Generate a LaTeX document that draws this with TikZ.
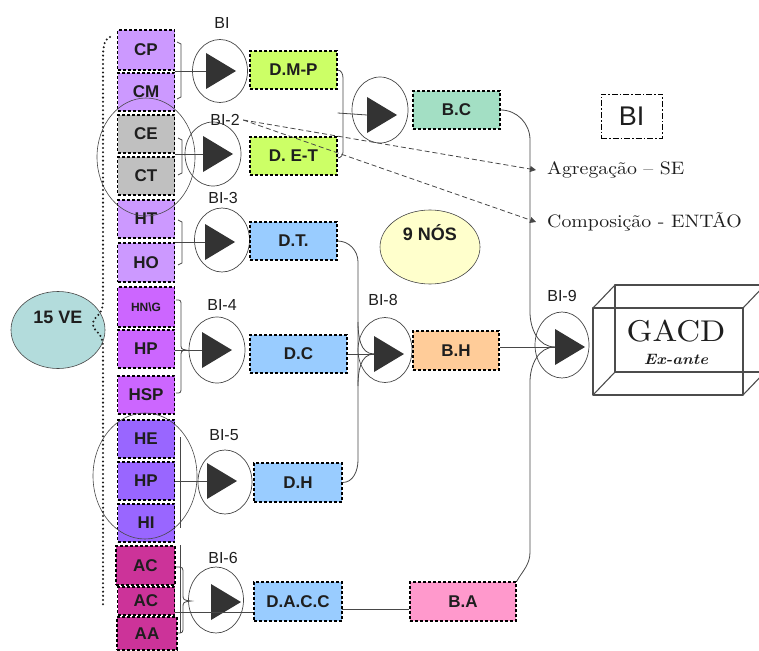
\documentclass[tikz,border=0pt]{standalone}
\usepackage{fontspec}
\setsansfont{Liberation Sans}
\newfontfamily\notefont[Extension=.otf, FakeStretch=1.1]{lmroman10-regular}
\newfontfamily\boxfont[Extension=.otf, FakeStretch=1.1]{lmroman10-regular}
\newfontfamily\exfont[Extension=.otf, FakeStretch=1.1]{lmroman10-bolditalic}
\usepackage{xcolor}
\definecolor{ink}{HTML}{1E1E1E}
\definecolor{wirecol}{HTML}{474747}
\definecolor{triink}{HTML}{333333}
\definecolor{lilac}{HTML}{CC99FF}
\definecolor{stone}{HTML}{C0C0C0}
\definecolor{orchid}{HTML}{CC66FF}
\definecolor{hviolet}{HTML}{9966FF}
\definecolor{magent}{HTML}{CC3399}
\definecolor{dlime}{HTML}{CCFF66}
\definecolor{sky}{HTML}{99CCFF}
\definecolor{mint}{HTML}{A3DFC4}
\definecolor{peach}{HTML}{FFCC99}
\definecolor{rose}{HTML}{FF99CC}
\definecolor{cream}{HTML}{FFFFCC}
\definecolor{veteal}{HTML}{B3DCDC}
\usepackage{tikz}
\usetikzlibrary{calc,arrows.meta,positioning,shapes.geometric}

% filled play-triangle inside a BI circle
\newcommand{\bitri}[2]{%
  \coordinate (#1) at #2;
  \coordinate (#1in) at ($(#1)+(-14,0)$);
  \fill[triink] ($(#1)+(-14,-18)$) -- ($(#1)+(16,0)$) -- ($(#1)+(-14,18)$) -- cycle;}

\begin{document}
\begin{tikzpicture}[x=1pt, y=-1pt, >=Stealth,
    vebox/.style={draw=black, dash pattern=on 3pt off 2pt, line width=1.2pt, minimum width=57pt, minimum height=38pt, inner sep=0pt, text=ink, font=\sffamily\bfseries\fontsize{17}{18}\selectfont},
    dbox/.style={vebox, minimum width=87pt},
    bicirc/.style={ellipse, draw=wirecol, line width=0.7pt, minimum width=55pt, minimum height=65pt, inner sep=0pt},
    bilabel/.style={text=ink, font=\sffamily\fontsize{16}{17}\selectfont},
    wire/.style={draw=wirecol, line width=0.8pt},
    hint/.style={wire, dash pattern=on 5pt off 3pt, -{Triangle[length=6pt,width=6pt]}},
    note/.style={anchor=west, text=ink, inner sep=0pt, font=\notefont\fontsize{18}{20}\selectfont},
    lifted/.style={text height=12pt, text depth=26pt}]

    \useasboundingbox (0,0) rectangle (759,650);
    \clip (0,0) rectangle (759,650);

    % Indicator column
    \node[vebox, fill=lilac, minimum height=40pt] (cp) at (146,50) {CP};
    \node[vebox, fill=lilac] (cm) at (146,92) {CM};
    \node[vebox, fill=stone] (ce) at (146,134) {CE};
    \node[vebox, fill=stone] (ct) at (146,176) {CT};
    \node[vebox, fill=lilac] (ht) at (146,219) {HT};
    \node[vebox, fill=lilac, minimum height=39pt] (ho) at (146,262.5) {HO};
    \node[vebox, fill=orchid, minimum height=40pt, font=\sffamily\bfseries\fontsize{12}{13}\selectfont] (hng) at (146,307) {HN\textbackslash G};
    \node[vebox, fill=orchid] (hp1) at (146,349) {HP};
    \node[vebox, fill=orchid] (hsp) at (146,395) {HSP};
    \node[vebox, fill=hviolet] (he) at (146,439) {HE};
    \node[vebox, fill=hviolet] (hp2) at (146,481) {HP};
    \node[vebox, fill=hviolet] (hi) at (146,523) {HI};
    \node[vebox, fill=magent, minimum width=59pt, minimum height=39pt] (ac1) at (145.5,565.5) {AC};
    \node[vebox, fill=magent, minimum height=28pt] (ac2) at (146,601) {AC};
    \node[vebox, fill=magent, minimum width=60pt, minimum height=33pt] (aa) at (147,633.5) {AA};

    % Grouping ellipses
    \node[ellipse, draw=wirecol, line width=0.6pt, minimum width=98pt, minimum height=118pt] (grpc) at (146,157) {};
    \node[ellipse, draw=wirecol, line width=0.6pt, minimum width=104pt, minimum height=126pt] (grph) at (145,476) {};

    % 15 VE and the dotted brace
    \node[ellipse, draw=wirecol, line width=0.6pt, fill=veteal, minimum width=94pt, minimum height=77pt, lifted,
          text=ink, font=\sffamily\bfseries\fontsize{18}{19}\selectfont] (ve) at (58,330) {15 VE};
    \draw[ink, line width=2.3pt, line cap=round, dash pattern=on 0pt off 4.2pt]
        (110,37) .. controls (103,40) and (103,50) .. (103,60) -- (103,302)
        .. controls (103,316) and (93,316) .. (93,324) .. controls (93,332) and (103,332) .. (103,346)
        -- (103,607);

    % BI circles
    \node[bicirc, minimum height=63pt] (bi1) at (220,71) {};
    \node[bicirc, minimum width=56pt, minimum height=64pt] (bi2) at (213,154) {};
    \node[bicirc, minimum height=64pt] (bi3) at (222,240) {};
    \node[bicirc, minimum width=56pt, minimum height=66pt] (bi4) at (217,350) {};
    \node[bicirc, minimum width=54pt, minimum height=64pt] (bi5) at (225,482) {};
    \node[bicirc, minimum height=66pt] (bi6) at (216,600) {};
    \node[bicirc, minimum width=56pt, minimum height=66pt] (bi7) at (380,110) {};
    \node[bicirc, minimum width=54pt] (bi8) at (385,350) {};
    \node[bicirc, minimum width=54pt, minimum height=66pt] (bi9) at (562,345) {};

    \bitri{t1}{(220,71)}
    \bitri{t2}{(217,154)}
    \bitri{t3}{(219,242)}
    \bitri{t4}{(216,350)}
    \bitri{t5}{(221,481)}
    \bitri{t6}{(225,602)}
    \bitri{t7}{(381,115)}
    \bitri{t8}{(388,354)}
    \bitri{t9}{(569,347)}

    \node[bilabel] (lbi1) at (222,23) {BI};
    \node[bilabel] (lbi2) at (225,120) {BI-2};
    \node[bilabel] (lbi3) at (223,198) {BI-3};
    \node[bilabel] (lbi4) at (222,305) {BI-4};
    \node[bilabel] (lbi5) at (224,435) {BI-5};
    \node[bilabel] (lbi6) at (223,558) {BI-6};
    \node[bilabel] (lbi8) at (383,300) {BI-8};
    \node[bilabel] (lbi9) at (562,296) {BI-9};

    % Dimension and block boxes
    \node[dbox, fill=dlime] (dmp) at (293.5,70) {D.M-P};
    \node[dbox, fill=dlime] (det) at (293.5,156) {D. E-T};
    \node[dbox, fill=sky] (dt) at (293.5,241) {D.T.};
    \node[dbox, fill=sky, minimum width=97pt] (dc) at (298.5,354) {D.C};
    \node[dbox, fill=sky, minimum width=88pt, minimum height=39pt] (dh) at (298,482.5) {D.H};
    \node[dbox, fill=sky, minimum width=88pt, minimum height=39pt] (dacc) at (298,601.5) {D.A.C.C};
    \node[dbox, fill=mint] (bc) at (456.5,110) {B.C};
    \node[dbox, fill=peach, minimum width=86pt, minimum height=39pt] (bh) at (456,350.5) {B.H};
    \node[dbox, fill=rose, minimum width=106pt, minimum height=39pt] (ba) at (463,601.5) {B.A};

    % Legend and node count
    \node[draw=black, line width=0.9pt, dash pattern=on 6pt off 2pt on 1.5pt off 2pt, minimum width=61pt, minimum height=44pt,
          text=ink, font=\sffamily\fontsize{27}{29}\selectfont] (legend) at (631.5,116) {BI};
    \node[ellipse, draw=wirecol, line width=0.6pt, fill=cream, minimum width=100pt, minimum height=74pt, lifted,
          text=ink, font=\sffamily\bfseries\fontsize{18}{19}\selectfont] (nos) at (430,247) {9 NÓS};

    % Inputs of the first level
    \draw[wire] (177,42) -- (181,44) -- (181,97) -- (177,99);
    \draw[wire] (t1in -| cp.east) -- (t1in);
    \draw[wire] (178,138) -- (182,140) -- (182,173) -- (178,175);
    \draw[wire] (t2in -| ct.east) -- (t2in);
    \draw[wire] (178,220) -- (182,222) -- (182,263) -- (178,265);
    \draw[wire] (t3in -| ho.east) -- (t3in);
    \draw[wire] (176,300) .. controls (181,300) .. (181,306) -- (181,343) .. controls (181,349) .. (186,350)
        .. controls (181,351) .. (181,357) -- (181,387) .. controls (181,393) .. (176,393);
    \draw[wire] (t4in -| hp1.east) -- (t4in);
    \draw[wire] (180,437) -- (180,528);
    \draw[wire] (t5in -| hp2.east) -- (t5in);
    \draw[wire] (180,545) -- (180,633);
    \draw[wire] (176,567) .. controls (183,567) .. (183,574) -- (183,594) .. controls (183,600) .. (191,601)
        .. controls (183,602) .. (183,608) -- (183,626) .. controls (183,633) .. (177,633);
    \coordinate (row6) at (175,612);
    \draw[wire] (row6) -- (row6 -| dacc.west);

    % D.M-P and D. E-T into the unlabeled circle
    \coordinate (j7) at ($(dmp.east)!0.5!(det.east)$);
    \draw[wire] (dmp.east) to[out=0,in=90] (343,78) -- (343,152) to[out=-90,in=0] ($(det.east)+(0,2)$);
    \draw[wire] (j7) -- (t7in);

    % D.T., D.C and D.H into BI-8
    \draw[wire] (dt.east) to[out=0,in=90] (358,262) -- (358,460) to[out=-90,in=0] (dh.east);
    \draw[wire] (358,322) to[out=-90,in=180] (t8in);
    \draw[wire] (358,386) to[out=90,in=180] (t8in);
    \draw[wire] (dc.east) -- (t8in);

    % B.C, B.H and B.A into BI-9
    \draw[wire] (bc.east) to[out=0,in=90] (530,140) -- (530,312) to[out=-90,in=180] (t9in);
    \draw[wire] (ba.north east) to[out=60,in=-90] (530,552) -- (530,382) to[out=90,in=180] (t9in);
    \draw[wire] (t9in -| bh.east) -- (t9in);
    \coordinate (row7) at (342,609);
    \draw[wire] (row7) -- (row7 -| ba.west);

    % Rule hints
    \node[note] (agr) at (547,170) {Agregação – SE};
    \node[note] (comp) at (547,222) {Composição - ENTÃO};
    \coordinate (agrtip) at (536,170);
    \coordinate (comptip) at (536,222);
    \draw[hint] (lbi2.east) -- (agrtip);
    \draw[hint] (lbi2.east) -- (comptip);

    % GACD box
    \coordinate (fA) at (593,308);
    \coordinate (fB) at (743,308);
    \coordinate (fC) at (743,395);
    \coordinate (fD) at (593,395);
    \begin{scope}[draw=black!70, line width=1.1pt, line join=round]
        \draw (fA) -- (fB) -- (fC) -- (fD) -- cycle;
        \draw ($(fA)+(22,-23)$) -- ($(fB)+(22,-23)$) -- ($(fC)+(22,-23)$) -- ($(fD)+(22,-23)$) -- cycle;
        \foreach \k in {fA,fB,fC,fD}
            \draw (\k) -- ($(\k)+(22,-23)$);
    \end{scope}
    \node[align=center, text=ink, inner sep=0pt, font=\boxfont\fontsize{30}{30}\selectfont] (gacd) at (676,342)
        {GACD\\[-7pt]{\exfont\fontsize{15}{16}\selectfont Ex-ante}};
\end{tikzpicture}
\end{document}
